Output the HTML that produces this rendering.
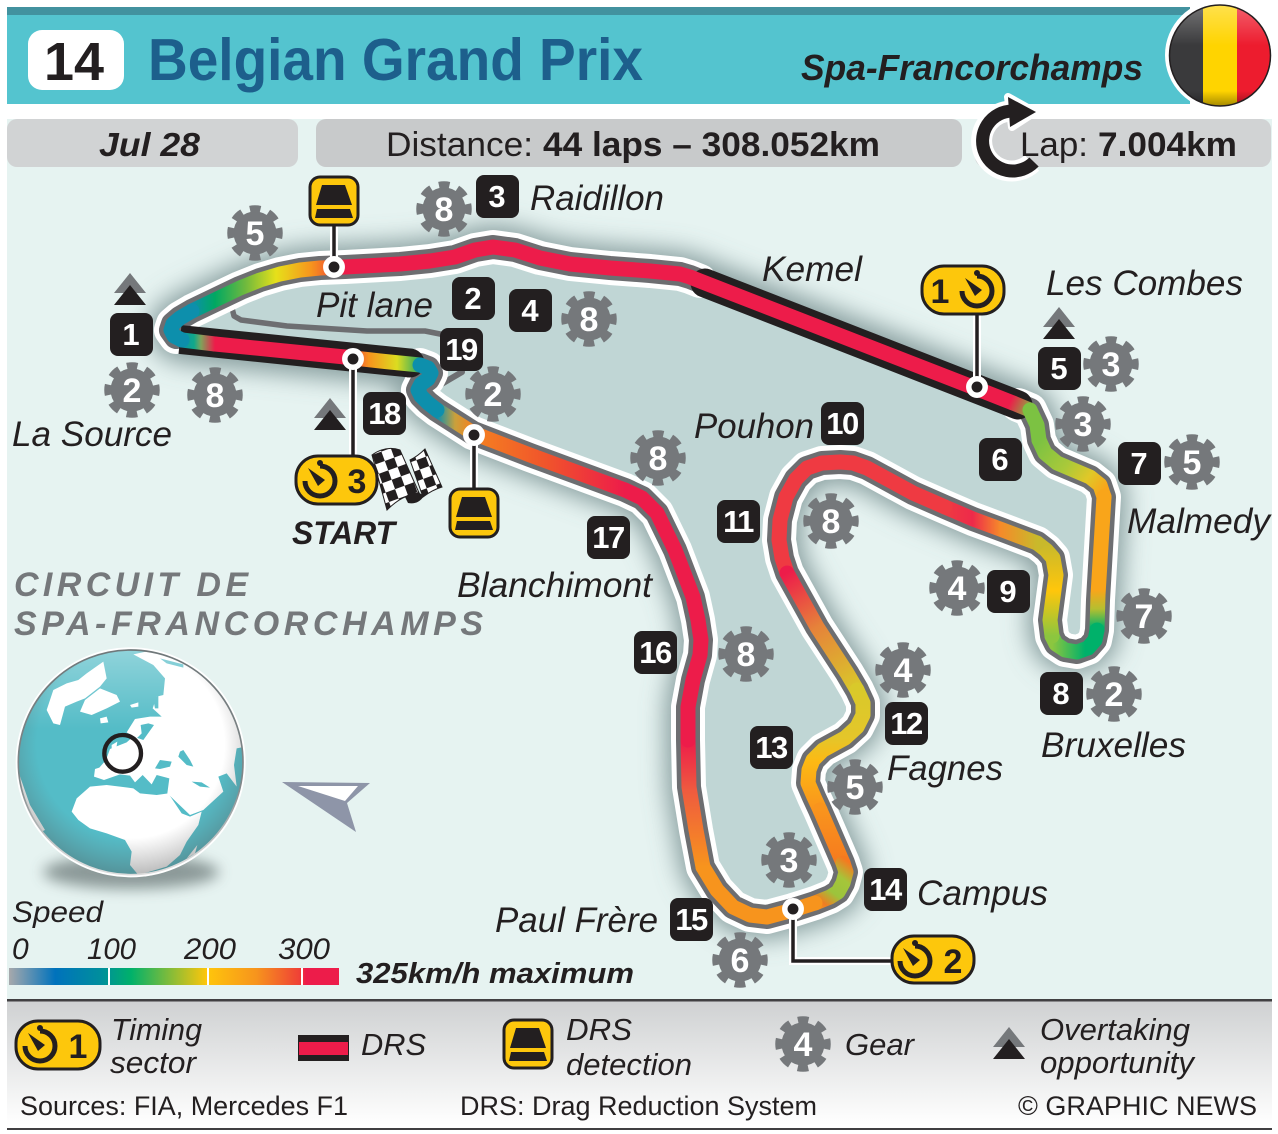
<!DOCTYPE html>
<html><head><meta charset="utf-8"><title>Belgian Grand Prix</title>
<style>
html,body{margin:0;padding:0;background:#fff}
svg{display:block}
text{font-family:"Liberation Sans",sans-serif;fill:#231f20}
.l{font-style:italic;font-size:35px}
.b{font-weight:bold}
.bi{font-weight:bold;font-style:italic}
.tg{font-weight:bold;font-size:31px;fill:#fff;text-anchor:middle}
.ge{font-weight:bold;font-size:34px;fill:#fff;text-anchor:middle}
.tr{fill:none;stroke-linejoin:round;stroke-linecap:round}
.c{fill:none;stroke-width:15;stroke-linejoin:round;stroke-linecap:round}
</style></head><body>
<svg xmlns="http://www.w3.org/2000/svg" width="1278" height="1134" viewBox="0 0 1278 1134">
<defs>
<filter id="bl" x="-20%" y="-20%" width="140%" height="140%"><feGaussianBlur stdDeviation="12"/></filter>
<filter id="bl2" x="-30%" y="-100%" width="160%" height="300%"><feGaussianBlur stdDeviation="7"/></filter>
<g id="gear"><circle r="21.5" fill="#75787b"/><circle r="24" fill="none" stroke="#75787b" stroke-width="7.5" stroke-dasharray="10.5 8.35" stroke-dashoffset="5.25"/></g>
<g id="clock"><path d="M0 -15A15 15 0 1 1 -15 0" fill="none" stroke="#231f20" stroke-width="5"/><polygon points="-12,-13 5,-1 -2,5" fill="#231f20"/><circle cx="0" cy="-18" r="3" fill="#231f20"/></g>
<g id="drs"><rect x="-24" y="-24" width="48" height="48" rx="10" fill="#fdc70c" stroke="#231f20" stroke-width="3"/><polygon points="-12,-16 11,-16 18,4 -18,4" fill="#231f20"/><polygon points="-17,8 16,8 19,17 -19,17" fill="#231f20"/></g>
<g id="ov"><polygon points="0,0 16,20 -16,20" fill="#75787b"/><polygon points="0,12 16,32 -16,32" fill="#231f20"/></g>
<pattern id="chk" width="20" height="20" patternUnits="userSpaceOnUse" patternTransform="translate(372 455) rotate(-20)"><rect width="20" height="20" fill="#fff"/><rect width="10" height="10" fill="#231f20"/><rect x="10" y="10" width="10" height="10" fill="#231f20"/></pattern>
<clipPath id="gc"><circle cx="362" cy="352" r="337"/></clipPath>
<linearGradient id="leg" x1="0" y1="1001" x2="0" y2="1125" gradientUnits="userSpaceOnUse"><stop offset="0" stop-color="#cfd1d2"/><stop offset="1" stop-color="#fff"/></linearGradient>
<linearGradient id="spd" x1="9" y1="0" x2="339" y2="0" gradientUnits="userSpaceOnUse"><stop offset="0" stop-color="#a7a9ac"/><stop offset=".14" stop-color="#0072bc"/><stop offset=".28" stop-color="#008f9c"/><stop offset=".37" stop-color="#00b16a"/><stop offset=".6" stop-color="#ffc60b"/><stop offset=".75" stop-color="#f7941d"/><stop offset=".88" stop-color="#ef4136"/><stop offset=".9" stop-color="#ed1c4a"/><stop offset="1" stop-color="#ed1c4a"/></linearGradient>
<linearGradient id="gt" x1="0" y1="0" x2="0" y2="1"><stop offset="0" stop-color="#fff" stop-opacity=".35"/><stop offset=".35" stop-color="#fff" stop-opacity="0"/></linearGradient>
<radialGradient id="ge" cx=".5" cy=".42" r=".58"><stop offset=".72" stop-color="#666" stop-opacity="0"/><stop offset="1" stop-color="#555" stop-opacity=".4"/></radialGradient>
<linearGradient id="gr" x1="0" y1="0" x2="0" y2="1"><stop offset="0" stop-color="#70787a"/><stop offset=".6" stop-color="#80888a"/><stop offset=".95" stop-color="#dcdcdc"/></linearGradient>
<linearGradient id="fg" x1="0" y1="0" x2="0" y2="1"><stop offset="0" stop-color="#fff" stop-opacity=".3"/><stop offset=".4" stop-color="#fff" stop-opacity="0"/><stop offset=".85" stop-color="#000" stop-opacity="0"/><stop offset="1" stop-color="#000" stop-opacity=".35"/></linearGradient>
<linearGradient id="gB" x1="425" y1="0" x2="345" y2="0" gradientUnits="userSpaceOnUse"><stop offset="0" stop-color="#0d8fac"/><stop offset=".1" stop-color="#3fae5c"/><stop offset=".35" stop-color="#dcdc20"/><stop offset=".7" stop-color="#f7941d"/><stop offset="1" stop-color="#ed1c4a"/></linearGradient>
<linearGradient id="gD" x1="215" y1="0" x2="180" y2="0" gradientUnits="userSpaceOnUse"><stop offset="0" stop-color="#ed1c4a"/><stop offset=".4" stop-color="#7fa35a"/><stop offset=".6" stop-color="#10a88a"/><stop offset="1" stop-color="#0d8fac"/></linearGradient>
<linearGradient id="gF" x1="192" y1="0" x2="345" y2="0" gradientUnits="userSpaceOnUse"><stop offset="0" stop-color="#0d8fac"/><stop offset=".15" stop-color="#00a862"/><stop offset=".35" stop-color="#6fb93e"/><stop offset=".55" stop-color="#e6e01a"/><stop offset=".78" stop-color="#f7941d"/><stop offset=".95" stop-color="#ef4136"/><stop offset="1" stop-color="#ed1c4a"/></linearGradient>
<linearGradient id="gH" x1="1010" y1="402" x2="1032" y2="412" gradientUnits="userSpaceOnUse"><stop offset="0" stop-color="#ed1c4a"/><stop offset="1" stop-color="#7cc242"/></linearGradient>
<linearGradient id="gI" x1="1040" y1="440" x2="1104" y2="490" gradientUnits="userSpaceOnUse"><stop offset="0" stop-color="#7cc242"/><stop offset=".45" stop-color="#a9c93a"/><stop offset=".75" stop-color="#e0c828"/><stop offset="1" stop-color="#f9a51a"/></linearGradient>
<linearGradient id="gK" x1="0" y1="590" x2="0" y2="628" gradientUnits="userSpaceOnUse"><stop offset="0" stop-color="#f9a51a"/><stop offset=".5" stop-color="#b5bf30"/><stop offset="1" stop-color="#00b16a"/></linearGradient>
<linearGradient id="gL" x1="1085" y1="0" x2="1052" y2="0" gradientUnits="userSpaceOnUse"><stop offset="0" stop-color="#00b16a"/><stop offset="1" stop-color="#8cc63f"/></linearGradient>
<linearGradient id="gM" x1="0" y1="636" x2="0" y2="545" gradientUnits="userSpaceOnUse"><stop offset="0" stop-color="#8cc63f"/><stop offset=".5" stop-color="#ffc60b"/><stop offset="1" stop-color="#c9b92b"/></linearGradient>
<linearGradient id="gN" x1="1037" y1="0" x2="945" y2="0" gradientUnits="userSpaceOnUse"><stop offset="0" stop-color="#c9b92b"/><stop offset=".4" stop-color="#f58a2a"/><stop offset=".7" stop-color="#ee2a4a"/><stop offset="1" stop-color="#ef3a42"/></linearGradient>
<linearGradient id="gP" x1="787" y1="573" x2="857" y2="690" gradientUnits="userSpaceOnUse"><stop offset="0" stop-color="#ed1c4a"/><stop offset=".45" stop-color="#e6823a"/><stop offset="1" stop-color="#d9c92a"/></linearGradient>
<linearGradient id="gQ" x1="0" y1="690" x2="0" y2="810" gradientUnits="userSpaceOnUse"><stop offset="0" stop-color="#d9c92a"/><stop offset=".4" stop-color="#e4c62a"/><stop offset=".6" stop-color="#fdb913"/><stop offset="1" stop-color="#f9941d"/></linearGradient>
<linearGradient id="gR" x1="0" y1="810" x2="0" y2="866" gradientUnits="userSpaceOnUse"><stop offset="0" stop-color="#f9941d"/><stop offset="1" stop-color="#f6791f"/></linearGradient>
<linearGradient id="gS" x1="846" y1="860" x2="812" y2="905" gradientUnits="userSpaceOnUse"><stop offset="0" stop-color="#f6791f"/><stop offset=".3" stop-color="#a5c53a"/><stop offset=".6" stop-color="#9cc43c"/><stop offset=".85" stop-color="#ef7d22"/><stop offset="1" stop-color="#f7941d"/></linearGradient>
<linearGradient id="gT" x1="0" y1="867" x2="0" y2="740" gradientUnits="userSpaceOnUse"><stop offset="0" stop-color="#f7941d"/><stop offset=".6" stop-color="#ef5b3f"/><stop offset="1" stop-color="#ed1c4a"/></linearGradient>
<linearGradient id="gW" x1="625" y1="0" x2="473" y2="0" gradientUnits="userSpaceOnUse"><stop offset="0" stop-color="#ed1c4a"/><stop offset=".5" stop-color="#f0522c"/><stop offset="1" stop-color="#f58220"/></linearGradient>
<linearGradient id="gX" x1="473" y1="0" x2="437" y2="0" gradientUnits="userSpaceOnUse"><stop offset="0" stop-color="#f58220"/><stop offset=".5" stop-color="#c9a03c"/><stop offset="1" stop-color="#0d8fac"/></linearGradient>
<polygon id="trk" points="437,410 428,403 421,396 418,390 421,384 428,379 431,373 428,368 420,365 345,357 215,344 182,340 174,336 171,330 173,324 180,318 192,311 217,299 240,288 260,280 280,274 300,270 320,268 345,267 400,264 430,261 455,257 475,250 493,247 515,250 540,258 570,264 610,268 650,271 680,274 690,277 700,281 975,388 1013,403 1030,410 1037,425 1039,440 1045,453 1057,463 1090,477 1100,485 1104,497 1098,600 1097,630 1095,640 1088,648 1077,652 1065,650 1056,644 1052,636 1050,620 1054,590 1056,575 1053,558 1046,550 1037,543 1000,529 973,519 945,507 913,493 867,468 853,463 840,462 822,463 807,468 796,479 786,497 780,520 779,540 782,558 787,573 817,627 847,673 857,690 863,703 863,715 857,727 845,738 823,750 813,760 809,770 808,783 814,797 820,810 843,863 846,872 843,883 838,892 830,897 815,903 793,910 767,917 750,915 733,907 717,890 703,867 696,830 689,787 688,740 688,707 693,680 700,655 701,640 698,620 693,597 675,550 657,513 642,498 625,490 530,455 473,433"/>
<polyline id="p1" points="176,337 171,330 173,324 180,318 192,311 217,299 240,288 260,280 280,274 300,270 320,268 345,267 400,264 430,261 455,257 475,250 493,247 515,250 540,258 570,264 610,268 650,271 680,274 690,277 700,281"/>
<polyline id="p2" points="1018,405 1030,410 1037,425 1039,440 1045,453 1057,463 1090,477 1100,485 1104,497 1098,600 1097,630 1095,640 1088,648 1077,652 1065,650 1056,644 1052,636 1050,620 1054,590 1056,575 1053,558 1046,550 1037,543 1000,529 973,519 945,507 913,493 867,468 853,463 840,462 822,463 807,468 796,479 786,497 780,520 779,540 782,558 787,573 817,627 847,673 857,690 863,703 863,715 857,727 845,738 823,750 813,760 809,770 808,783 814,797 820,810 843,863 846,872 843,883 838,892 830,897 815,903 793,910 767,917 750,915 733,907 717,890 703,867 696,830 689,787 688,740 688,707 693,680 700,655 701,640 698,620 693,597 675,550 657,513 642,498 625,490 530,455 473,433 437,410 428,403 421,396 418,390 421,384 428,379 431,373 428,368 420,365"/>
</defs>

<!-- background -->
<rect x="7" y="119" width="1265" height="881" fill="#e6f3f1"/>

<!-- header -->
<rect x="7" y="7" width="1183" height="97" fill="#54c4cf"/>
<rect x="7" y="7" width="1183" height="8" fill="#42929f"/>
<rect x="28" y="30" width="96" height="60" rx="14" fill="#fff"/>
<text x="44" y="80" class="b" font-size="54" textLength="60" lengthAdjust="spacingAndGlyphs">14</text>
<text x="148" y="80" class="b" font-size="59" style="fill:#1d5f8c" textLength="495" lengthAdjust="spacingAndGlyphs">Belgian Grand Prix</text>
<text x="801" y="80" class="bi" font-size="36" textLength="342" lengthAdjust="spacingAndGlyphs">Spa-Francorchamps</text>
<circle cx="1220" cy="55" r="55" fill="#fff"/>
<clipPath id="fc"><circle cx="1220" cy="55.5" r="50.5"/></clipPath>
<g clip-path="url(#fc)"><rect x="1165" y="0" width="38" height="110" fill="#3a3a3c"/><rect x="1203" y="0" width="34" height="110" fill="#ffd400"/><rect x="1237" y="0" width="40" height="110" fill="#ed1c2e"/><rect x="1165" y="5" width="110" height="101" fill="url(#fg)"/></g>
<circle cx="1220" cy="55.5" r="50.5" fill="none" stroke="#231f20" stroke-width="1.5"/>

<!-- info pills -->
<rect x="7" y="119" width="291" height="48" rx="10" fill="#d1d3d4"/>
<rect x="316" y="119" width="646" height="48" rx="10" fill="#c8cacb"/>
<rect x="975" y="119" width="296" height="48" rx="10" fill="#d1d3d4"/>
<text x="99" y="156" class="bi" font-size="33" textLength="101" lengthAdjust="spacingAndGlyphs">Jul 28</text>
<text x="386" y="156" font-size="34" textLength="147" lengthAdjust="spacingAndGlyphs">Distance:</text>
<text x="543" y="156" class="b" font-size="34" textLength="337" lengthAdjust="spacingAndGlyphs">44 laps – 308.052km</text>
<path d="M1012 111A30 30 0 1 0 1032 163" fill="none" stroke="#fff" stroke-width="21"/>
<polygon points="1008,97 1035,112 1012,127" fill="#fff" stroke="#fff" stroke-width="8" stroke-linejoin="round"/>
<path d="M1012 111A30 30 0 1 0 1034 162" fill="none" stroke="#231f20" stroke-width="13"/>
<polygon points="1008,97 1036,112 1010,127" fill="#231f20"/>
<text x="1020" y="156" font-size="34" textLength="68" lengthAdjust="spacingAndGlyphs">Lap:</text>
<text x="1098" y="156" class="b" font-size="34" textLength="139" lengthAdjust="spacingAndGlyphs">7.004km</text>

<!-- track shadow + infield -->
<use href="#trk" class="tr" stroke="#6a8384" stroke-width="46" stroke-opacity=".75" filter="url(#bl)"/>
<use href="#trk" fill="#c0d6d5"/>
<polyline class="tr" points="232,308 234,316 241,320 287,326 367,331 425,331 445,335" stroke="#6d6e71" stroke-width="5.5"/>
<polyline class="tr" points="428,392 462,372" stroke="#6d6e71" stroke-width="6"/>
<use href="#p1" class="tr" stroke="#fff" stroke-width="34"/>
<use href="#p2" class="tr" stroke="#fff" stroke-width="34"/>
<use href="#p1" class="tr" stroke="#6d6e71" stroke-width="24"/>
<use href="#p2" class="tr" stroke="#6d6e71" stroke-width="24"/>
<polyline fill="none" stroke="#231f20" stroke-width="29" points="180,339.5 410,363"/>
<circle cx="410" cy="363" r="14.5" fill="#231f20"/>
<polyline class="tr" points="705,283 1018,405" stroke="#231f20" stroke-width="29"/>

<!-- coloured ribbon -->
<polyline class="c" stroke="#ed1c4a" points="345,357 215,344"/>
<polyline class="c" stroke="url(#gD)" points="215,344 182,340"/>
<polyline class="c" stroke="url(#gB)" points="420,365 385,361.5 345,357"/>
<polyline class="c" stroke="#ed1c4a" points="345,267 400,264 430,261 455,257 475,250 493,247 515,250 540,258 570,264 610,268 650,271 680,274 690,277 700,281 975,388 1013,403"/>
<polyline class="c" stroke="url(#gF)" points="192,311 217,299 240,288 260,280 280,274 300,270 320,268 345,267"/>
<polyline class="c" stroke="#0d8fac" points="182,340 174,336 171,330 173,324 180,318 192,311"/>
<polyline class="c" stroke="url(#gH)" points="1013,403 1030,410"/>
<polyline class="c" stroke="#7cc242" points="1030,410 1037,425 1039,440"/>
<polyline class="c" stroke="url(#gI)" points="1039,440 1045,453 1057,463 1090,477 1100,485 1104,497"/>
<polyline class="c" stroke="#f9a51a" points="1104,497 1098,595"/>
<polyline class="c" stroke="url(#gK)" points="1098,595 1097,630"/>
<polyline class="c" stroke="url(#gL)" points="1097,630 1095,640 1088,648 1077,652 1065,650 1056,644 1052,636"/>
<polyline class="c" stroke="url(#gM)" points="1052,636 1050,620 1054,590 1056,575 1053,558 1046,550 1037,543"/>
<polyline class="c" stroke="url(#gN)" points="1037,543 1000,529 973,519 945,507"/>
<polyline class="c" stroke="#ef3a42" points="945,507 913,493 867,468 853,463 840,462 822,463 807,468 796,479 786,497 780,520 779,540 782,558 787,573"/>
<polyline class="c" stroke="url(#gP)" points="787,573 817,627 847,673 857,690"/>
<polyline class="c" stroke="url(#gQ)" points="857,690 863,703 863,715 857,727 845,738 823,750 813,760 809,770 808,783 814,797 820,810"/>
<polyline class="c" stroke="url(#gR)" points="820,810 843,863"/>
<polyline class="c" stroke="url(#gS)" points="843,863 846,872 843,883 838,892 830,897 815,903"/>
<polyline class="c" stroke="#f7941d" points="815,903 793,910 767,917 750,915 733,907 717,890 703,867"/>
<polyline class="c" stroke="url(#gT)" points="703,867 696,830 689,787 688,740"/>
<polyline class="c" stroke="#ed1c4a" points="688,740 688,707 693,680 700,655 701,640 698,620 693,597 675,550 657,513 642,498 625,490"/>
<polyline class="c" stroke="url(#gW)" points="625,490 530,455 473,433"/>
<polyline class="c" stroke="url(#gX)" points="473,433 437,410"/>
<polyline class="c" stroke="#0d8fac" points="437,410 428,403 421,396 418,390 421,384 428,379 431,373 428,368 420,365"/>

<!-- connectors -->
<g fill="none" stroke="#fff" stroke-width="8">
<path d="M334 222V267"/><path d="M474 435V490"/><path d="M353 359V456"/><path d="M977 312V387"/><path d="M793 909V961H892"/>
</g>
<g fill="none" stroke="#231f20" stroke-width="3.5">
<path d="M334 222V267"/><path d="M474 435V490"/><path d="M353 359V456"/><path d="M977 312V387"/><path d="M793 909V961H892"/>
</g>
<g fill="#231f20" stroke="#fff" stroke-width="5.5">
<circle cx="334" cy="267" r="8.2"/><circle cx="474" cy="435" r="8.2"/><circle cx="353" cy="359" r="8.2"/><circle cx="977" cy="387" r="8.2"/><circle cx="793" cy="909" r="8.2"/>
</g>

<!-- DRS detection -->
<use href="#drs" x="334" y="201"/>
<use href="#drs" x="474" y="513"/>

<!-- flag -->
<path d="M372 455Q386 445 400 450L420 495Q405 492 387 510Z" fill="url(#chk)" stroke="#231f20" stroke-width="1"/>
<path d="M410 460Q418 456 425 449L442 487Q432 490 423 497Z" fill="url(#chk)" stroke="#231f20" stroke-width="1"/>
<path d="M405 497Q415 488 424 496Q418 505 408 503Z" fill="#231f20"/>

<!-- timing pills -->
<rect x="296" y="456" width="81" height="48" rx="22" fill="#fdc70c" stroke="#231f20" stroke-width="3"/>
<use href="#clock" x="320" y="481"/><text x="357" y="493" text-anchor="middle" class="b" font-size="34">3</text>
<rect x="922" y="266" width="82" height="48" rx="22" fill="#fdc70c" stroke="#231f20" stroke-width="3"/>
<use href="#clock" x="977" y="291"/><text x="940" y="303" text-anchor="middle" class="b" font-size="34">1</text>
<rect x="892" y="936" width="82" height="47" rx="22" fill="#fdc70c" stroke="#231f20" stroke-width="3"/>
<use href="#clock" x="915" y="961"/><text x="953" y="973" text-anchor="middle" class="b" font-size="34">2</text>

<!-- overtaking -->
<use href="#ov" x="130" y="273"/>
<use href="#ov" x="330" y="398"/>
<use href="#ov" x="1059" y="307"/>

<!-- number tags -->
<g fill="#231f20">
<rect x="110" y="313" width="43" height="43" rx="8"/><rect x="452" y="277" width="43" height="43" rx="8"/>
<rect x="476" y="175" width="43" height="43" rx="8"/><rect x="509" y="289" width="43" height="43" rx="8"/>
<rect x="1038" y="347" width="43" height="43" rx="8"/><rect x="979" y="438" width="43" height="43" rx="8"/>
<rect x="1118" y="442" width="43" height="43" rx="8"/><rect x="1040" y="672" width="43" height="43" rx="8"/>
<rect x="987" y="570" width="43" height="43" rx="8"/><rect x="821" y="402" width="43" height="43" rx="8"/>
<rect x="717" y="500" width="43" height="43" rx="8"/><rect x="885" y="702" width="43" height="43" rx="8"/>
<rect x="750" y="726" width="43" height="43" rx="8"/><rect x="864" y="868" width="43" height="43" rx="8"/>
<rect x="670" y="898" width="43" height="43" rx="8"/><rect x="634" y="631" width="43" height="43" rx="8"/>
<rect x="587" y="516" width="43" height="43" rx="8"/><rect x="363" y="392" width="43" height="43" rx="8"/>
<rect x="440" y="328" width="43" height="43" rx="8"/>
</g>
<g class="tg">
<text class="tg" x="131" y="345">1</text><text class="tg" x="473" y="309">2</text>
<text class="tg" x="497" y="207">3</text><text class="tg" x="530" y="321">4</text>
<text class="tg" x="1059" y="379">5</text><text class="tg" x="1000" y="470">6</text>
<text class="tg" x="1139" y="474">7</text><text class="tg" x="1061" y="704">8</text>
<text class="tg" x="1008" y="602">9</text><text class="tg" x="842" y="434" letter-spacing="-1.5">10</text>
<text class="tg" x="738" y="532" letter-spacing="-1.5">11</text><text class="tg" x="906" y="734" letter-spacing="-1.5">12</text>
<text class="tg" x="771" y="758" letter-spacing="-1.5">13</text><text class="tg" x="885" y="900" letter-spacing="-1.5">14</text>
<text class="tg" x="691" y="930" letter-spacing="-1.5">15</text><text class="tg" x="655" y="663" letter-spacing="-1.5">16</text>
<text class="tg" x="608" y="548" letter-spacing="-1.5">17</text><text class="tg" x="384" y="424" letter-spacing="-1.5">18</text>
<text class="tg" x="461" y="360" letter-spacing="-1.5">19</text>
</g>

<!-- gears -->
<use href="#gear" x="255" y="233"/><text class="ge" x="255" y="245">5</text>
<use href="#gear" x="444" y="209"/><text class="ge" x="444" y="221">8</text>
<use href="#gear" x="132" y="390"/><text class="ge" x="132" y="402">2</text>
<use href="#gear" x="215" y="395"/><text class="ge" x="215" y="407">8</text>
<use href="#gear" x="589" y="319"/><text class="ge" x="589" y="331">8</text>
<use href="#gear" x="493" y="394"/><text class="ge" x="493" y="406">2</text>
<use href="#gear" x="658" y="458"/><text class="ge" x="658" y="470">8</text>
<use href="#gear" x="831" y="521"/><text class="ge" x="831" y="533">8</text>
<use href="#gear" x="746" y="654"/><text class="ge" x="746" y="666">8</text>
<use href="#gear" x="903" y="670"/><text class="ge" x="903" y="682">4</text>
<use href="#gear" x="855" y="787"/><text class="ge" x="855" y="799">5</text>
<use href="#gear" x="789" y="860"/><text class="ge" x="789" y="872">3</text>
<use href="#gear" x="740" y="960"/><text class="ge" x="740" y="972">6</text>
<use href="#gear" x="957" y="588"/><text class="ge" x="957" y="600">4</text>
<use href="#gear" x="1111" y="364"/><text class="ge" x="1111" y="376">3</text>
<use href="#gear" x="1083" y="424"/><text class="ge" x="1083" y="436">3</text>
<use href="#gear" x="1192" y="462"/><text class="ge" x="1192" y="474">5</text>
<use href="#gear" x="1144" y="616"/><text class="ge" x="1144" y="628">7</text>
<use href="#gear" x="1114" y="694"/><text class="ge" x="1114" y="706">2</text>

<!-- labels -->
<text class="l" x="530" y="210" textLength="134" lengthAdjust="spacingAndGlyphs">Raidillon</text>
<text class="l" x="762" y="281" textLength="100" lengthAdjust="spacingAndGlyphs">Kemel</text>
<text class="l" x="1046" y="295" textLength="197" lengthAdjust="spacingAndGlyphs">Les Combes</text>
<text class="l" x="316" y="317" textLength="117" lengthAdjust="spacingAndGlyphs">Pit lane</text>
<text class="l" x="12" y="446" textLength="160" lengthAdjust="spacingAndGlyphs">La Source</text>
<text class="l" x="694" y="438" textLength="120" lengthAdjust="spacingAndGlyphs">Pouhon</text>
<text class="l" x="1127" y="533" textLength="143" lengthAdjust="spacingAndGlyphs">Malmedy</text>
<text class="l" x="1041" y="757" textLength="145" lengthAdjust="spacingAndGlyphs">Bruxelles</text>
<text class="l" x="887" y="780" textLength="116" lengthAdjust="spacingAndGlyphs">Fagnes</text>
<text class="l" x="917" y="905" textLength="131" lengthAdjust="spacingAndGlyphs">Campus</text>
<text class="l" x="495" y="932" textLength="163" lengthAdjust="spacingAndGlyphs">Paul Frère</text>
<text class="l" x="457" y="597" textLength="195" lengthAdjust="spacingAndGlyphs">Blanchimont</text>
<text class="bi" x="292" y="544" font-size="32" textLength="103" lengthAdjust="spacingAndGlyphs">START</text>
<text class="bi" x="14" y="596" font-size="34" style="fill:#75787b" textLength="234">CIRCUIT DE</text>
<text class="bi" x="14" y="635" font-size="34" style="fill:#75787b" textLength="469">SPA-FRANCORCHAMPS</text>

<!-- globe -->
<ellipse cx="131" cy="872" rx="88" ry="17" fill="#4f5d5d" opacity=".6" filter="url(#bl2)"/>
<g transform="translate(10,645) scale(.33333)">
<circle cx="362" cy="352" r="345" fill="#fff"/>
<circle cx="362" cy="352" r="337" fill="#54bcc7"/>
<g clip-path="url(#gc)" fill="#fff">
<path d="M370 28L430 60 465 100 460 150 440 155 428 190 455 215 420 215 375 222 350 262 380 280 395 265 392 240 415 235 432 240 400 285 370 275 350 292 330 300 300 312 288 345 268 368 255 372 252 395 282 405 330 388 360 392 375 412 398 390 425 418 440 390 478 400 472 445 540 510 580 495 640 440 625 395 650 385 680 425 672 360 680 310 730 300 730 100 500 0Z"/>
<path d="M185 500L200 460 240 425 290 420 330 425 370 430 390 445 440 450 475 445 515 505 540 515 575 500 565 540 530 590 510 630 470 665 385 690 360 660 365 620 345 585 290 565 240 550 205 525Z"/>
<path d="M110 195L130 135 170 115 205 105 230 85 280 50 290 100 270 125 225 160 200 170 165 185 150 240 130 235Z"/>
<path d="M210 200L225 165 270 130 320 150 330 170 290 190 245 210Z"/>
<path d="M270 220L290 215 295 232 272 235Z"/>
<path d="M305 300L322 290 318 315 305 318Z"/>
<path d="M360 180L385 172 385 185 365 188Z"/>
<path d="M530 640L562 600 555 625Z"/>
<path d="M25 380L60 480 105 555 95 560 40 490 15 420Z"/>
</g>
<g clip-path="url(#gc)" fill="#54bcc7">
<path d="M450 40L520 58 520 68 470 55Z"/>
<path d="M430 165L445 150 445 190 435 190Z"/>
<path d="M435 370L450 345 485 350 480 365 450 372Z"/>
<path d="M510 320L520 315 540 345 550 365 530 360 505 335Z"/>
<path d="M545 410L575 412 600 428 570 425Z"/>
</g>
<rect x="25" y="15" width="675" height="675" fill="url(#gt)" clip-path="url(#gc)"/>
<circle cx="362" cy="352" r="337" fill="url(#ge)"/>
<circle cx="362" cy="352" r="337" fill="none" stroke="url(#gr)" stroke-width="5"/>
<circle cx="338" cy="325" r="55" fill="none" stroke="#231f20" stroke-width="13"/>
</g>

<!-- north arrow -->
<polygon points="282,782 370,783 347,803 356,832" fill="#8e95a8"/>
<polygon points="298,786 358,786 345,801" fill="#fff"/>

<!-- speed -->
<text class="l" x="12" y="922" style="font-size:30px" textLength="91" lengthAdjust="spacingAndGlyphs">Speed</text>
<text class="l" x="12" y="959" style="font-size:30px">0</text>
<text class="l" x="87" y="959" style="font-size:30px" textLength="49" lengthAdjust="spacingAndGlyphs">100</text>
<text class="l" x="184" y="959" style="font-size:30px" textLength="52" lengthAdjust="spacingAndGlyphs">200</text>
<text class="l" x="278" y="959" style="font-size:30px" textLength="52" lengthAdjust="spacingAndGlyphs">300</text>
<rect x="9" y="968" width="330" height="17" fill="url(#spd)"/>
<rect x="108" y="968" width="2" height="17" fill="#fff"/><rect x="207" y="968" width="2" height="17" fill="#fff"/><rect x="301" y="968" width="2" height="17" fill="#fff"/>
<text class="bi" x="356" y="983" font-size="29" textLength="278" lengthAdjust="spacingAndGlyphs">325km/h maximum</text>

<!-- legend -->
<rect x="7" y="1001" width="1265" height="128" fill="url(#leg)"/>
<rect x="7" y="999" width="1265" height="2.5" fill="#414042"/>
<rect x="7" y="1128" width="1265" height="2" fill="#414042"/>
<rect x="16" y="1021" width="84" height="48" rx="22" fill="#fdc70c" stroke="#231f20" stroke-width="3"/>
<use href="#clock" x="40" y="1046"/><text x="78" y="1058" text-anchor="middle" class="b" font-size="34">1</text>
<text class="l" style="font-size:31px" x="111" y="1040" textLength="91" lengthAdjust="spacingAndGlyphs">Timing</text>
<text class="l" style="font-size:31px" x="110" y="1073" textLength="86" lengthAdjust="spacingAndGlyphs">sector</text>
<text class="l" style="font-size:31px" x="361" y="1055" textLength="65" lengthAdjust="spacingAndGlyphs">DRS</text>
<text class="l" style="font-size:31px" x="566" y="1040" textLength="66" lengthAdjust="spacingAndGlyphs">DRS</text>
<text class="l" style="font-size:31px" x="566" y="1075" textLength="126" lengthAdjust="spacingAndGlyphs">detection</text>
<text class="l" style="font-size:31px" x="845" y="1055" textLength="69" lengthAdjust="spacingAndGlyphs">Gear</text>
<text class="l" style="font-size:31px" x="1040" y="1040" textLength="150" lengthAdjust="spacingAndGlyphs">Overtaking</text>
<text class="l" style="font-size:31px" x="1040" y="1073" textLength="154" lengthAdjust="spacingAndGlyphs">opportunity</text>
<rect x="298" y="1035" width="51" height="26" fill="#231f20"/><rect x="299" y="1042" width="49" height="13" fill="#ed1c4a"/>
<use href="#drs" x="528" y="1044"/>
<use href="#gear" x="803" y="1044"/><text class="ge" x="803" y="1056">4</text>
<use href="#ov" x="1009" y="1027"/>
<text x="20" y="1115" font-size="27" textLength="328" lengthAdjust="spacingAndGlyphs">Sources: FIA, Mercedes F1</text>
<text x="460" y="1115" font-size="27" textLength="357" lengthAdjust="spacingAndGlyphs">DRS: Drag Reduction System</text>
<text x="1018" y="1115" font-size="27" textLength="239" lengthAdjust="spacingAndGlyphs">© GRAPHIC NEWS</text>
</svg>
</body></html>
